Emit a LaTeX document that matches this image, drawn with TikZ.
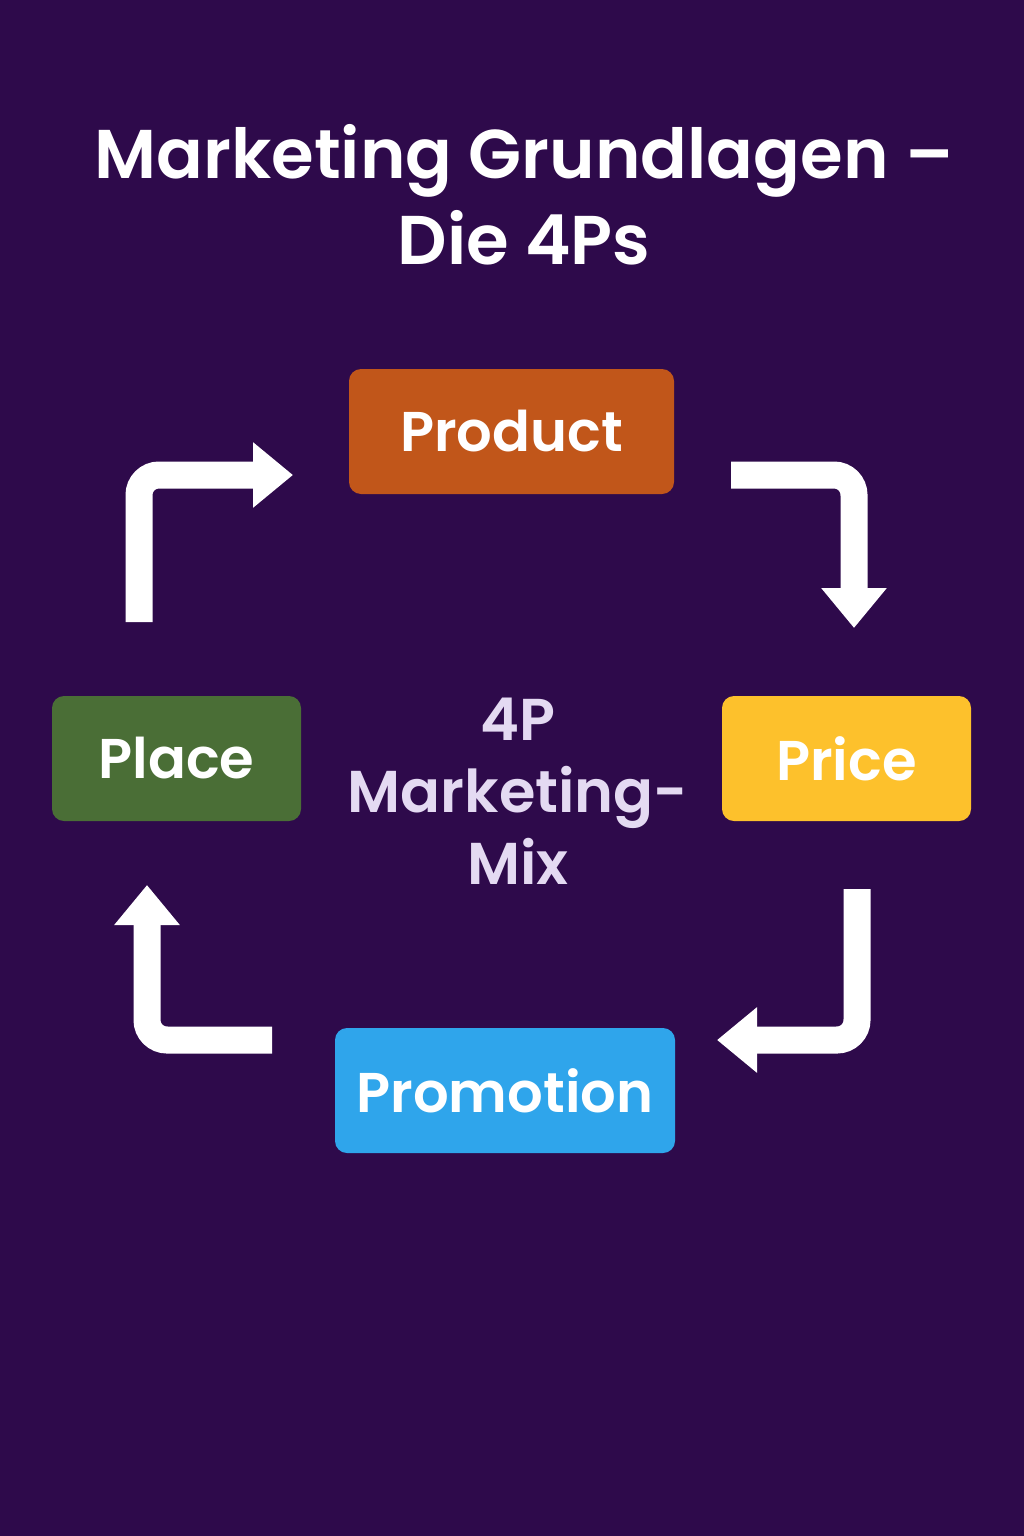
\documentclass[tikz,border=0pt]{standalone}
\usepackage{fontspec}
\setmainfont{Poppins}[BoldFont={* SemiBold}]
\usetikzlibrary{arrows.meta}

\definecolor{bgpurple}{HTML}{2E0A4B}
\definecolor{cprod}{HTML}{C1561A}
\definecolor{cprice}{HTML}{FDC12C}
\definecolor{cplace}{HTML}{4A6E36}
\definecolor{cpromo}{HTML}{2FA5EB}
\definecolor{lav}{HTML}{E4DAF2}

\tikzset{
  pbox/.style={rectangle, rounded corners=12pt, minimum width=#1, minimum height=125pt,
    inner sep=0pt, text=white, font=\fontsize{56}{66}\selectfont\bfseries},
  flow/.style={draw=white, line width=27pt, rounded corners=20pt,
    -{Triangle[width=63pt,length=40pt]}}
}

\begin{document}
\begin{tikzpicture}[x=1pt,y=-1pt]

      \fill[bgpurple] (0,0) rectangle (1024,1536);
      \useasboundingbox (0,0) rectangle (1024,1536);

      \node[text=white, align=center, font=\fontsize{69}{86}\selectfont\bfseries] (t) at (524,195)
        {Marketing Grundlagen --\\Die 4Ps};

      \begin{scope}[every node/.style={pbox=325pt}]
        \node[fill=cprod]              (1) at (511.5,431.5)  {Product};
        \node[fill=cprice, pbox=249pt] (2) at (846.5,758.5)  {Price};
        \node[fill=cpromo, pbox=340pt] (3) at (505,1090.5)   {Promotion};
        \node[fill=cplace, pbox=249pt] (4) at (176.5,758.5)  {Place};
      \end{scope}

      \node[text=lav, align=center, font=\fontsize{59}{72}\selectfont\bfseries] (m) at (518,791)
        {4P\\Marketing-\\Mix};

      % free ends of the bent arrows
      \coordinate (s1) at (139,622);  \coordinate (e1) at (293,475);
      \coordinate (s2) at (731,475);  \coordinate (e2) at (854,628);
      \coordinate (s3) at (857,889);  \coordinate (e3) at (717,1040);
      \coordinate (s4) at (272,1040); \coordinate (e4) at (147,885);

      \begin{scope}[every path/.style={flow}]
        \path (s1) |- (e1);
        \path (s2) -| (e2);
        \path (s3) |- (e3);
        \path (s4) -| (e4);
      \end{scope}

    \end{tikzpicture}
\end{document}
